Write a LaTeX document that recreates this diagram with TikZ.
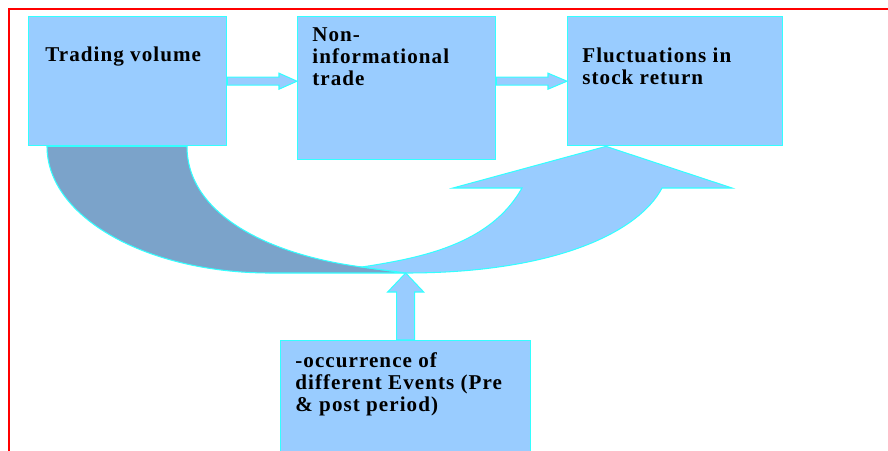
\documentclass[tikz,border=0pt]{standalone}
\usepackage{fontspec}
\setmainfont{Liberation Serif}
\newfontfamily\boxfont[LetterSpace=5]{Liberation Serif}
\usetikzlibrary{calc}
\definecolor{boxblue}{RGB}{153,204,255}
\definecolor{edgecyan}{RGB}{51,255,255}
\definecolor{steelarc}{RGB}{123,163,202}
\definecolor{framered}{RGB}{255,0,0}
\tikzset{
  box/.style={draw=edgecyan,line width=0.8pt,fill=boxblue,anchor=north west,inner sep=0pt},
  lbl/.style={anchor=north west,align=left,inner sep=0pt,text=black,font=\boxfont\bfseries\fontsize{12}{12.5}\selectfont},
  blockarr/.style={draw=edgecyan,line width=0.6pt,fill=boxblue,line join=miter},
  darkarr/.style={draw=edgecyan,line width=0.6pt,fill=steelarc}
}

\begin{document}
\begin{tikzpicture}[x=0.02cm,y=-0.02cm]
  \useasboundingbox (0,0) rectangle (888,450);
  \draw[framered,line width=1.2pt] (9,470) -- (9,9) -- (900,9);

  % boxes
  \node[box,minimum width=3.96cm,minimum height=2.58cm] (tv) at (28,16) {};
  \node[box,minimum width=3.96cm,minimum height=2.86cm] (nit) at (297,16) {};
  \node[box,minimum width=4.3cm,minimum height=2.58cm] (fsr) at (567,16) {};
  \node[box,minimum width=5cm,minimum height=2.4cm] (ev) at (280,340) {};

  % texts
  \node[lbl] (tvtext) at ($(tv.north west)+(17,31)$) {Trading volume};
  \node[lbl] (nittext) at ($(nit.north west)+(15,11)$) {Non-\\informational\\trade};
  \node[lbl] (fsrtext) at ($(fsr.north west)+(15,32)$) {Fluctuations in\\stock return};
  \node[lbl] (evtext) at ($(ev.north west)+(15,12)$) {-occurrence of\\different Events (Pre\\\& post period)};

  % straight arrows
  \draw[blockarr] ($(tv.east)+(0,-4)$) -- ($(nit.west |- tv.east)+(-18,-4)$)
    -- ++(0,-4) -- (nit.west |- tv.east) -- ++(-18,8) -- ++(0,-4)
    -- ($(tv.east)+(0,4)$) -- cycle;
  \draw[blockarr] ($(nit.east |- tv.east)+(0,-4)$) -- ($(fsr.west |- tv.east)+(-19,-4)$)
    -- ++(0,-4) -- (fsr.west |- tv.east) -- ++(-19,8) -- ++(0,-4)
    -- ($(nit.east |- tv.east)+(0,4)$) -- cycle;

  % curved arrow
  \coordinate (uo) at ($(tv.south west)+(19,0)$);
  \coordinate (ui) at ($(tv.south west)+(159,0)$);
  \coordinate (tip) at ($(fsr.south west)+(39,0)$);
  \coordinate (base) at (ev.north |- 0,273);
  \coordinate (cusp) at (362,267);
  \draw[darkarr] (uo) .. controls +(0,71) and +(-123,0) .. (270,273) -- (base)
    -- (cusp) .. controls (270,255) and (187,215) .. (ui) -- cycle;
  \draw[blockarr] (cusp) -- (base) .. controls +(154,0) and +(-22,42) .. (662,188)
    -- (732,188) -- (tip) -- (453,188) -- (522,188)
    .. controls +(-32,57) and +(58,-9) .. (cusp) -- cycle;

  % event arrow
  \draw[blockarr] ($(ev.north)+(-9,0)$) -- ++(0,-48) -- ++(-9,0) -- (base)
    -- ($(ev.north)+(18,-48)$) -- ++(-9,0) -- ($(ev.north)+(9,0)$) -- cycle;
\end{tikzpicture}
\end{document}
